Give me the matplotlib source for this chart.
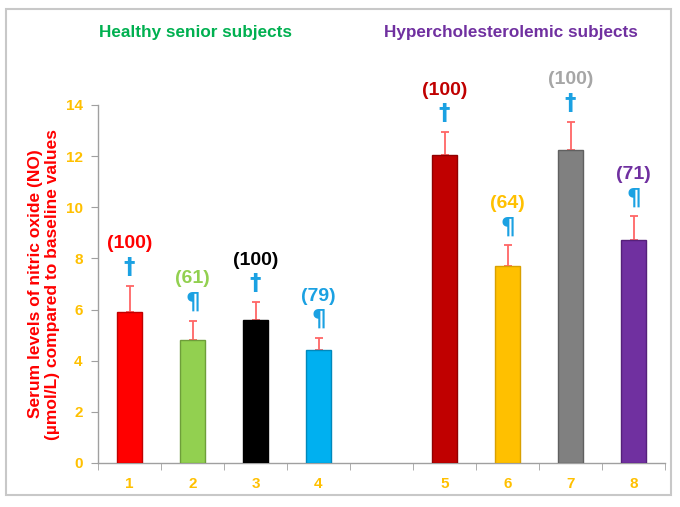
import matplotlib
matplotlib.use("Agg")
import matplotlib.pyplot as plt
from matplotlib.patches import Rectangle
import numpy as np

plt.rcParams['font.family'] = ['Liberation Sans', 'DejaVu Sans']

categories = ["1", "2", "3", "4", "", "5", "6", "7", "8"]
values = [5.91, 4.80, 5.61, 4.43, np.nan, 12.06, 7.71, 12.25, 8.74]
errors = [1.02, 0.77, 0.68, 0.46, np.nan, 0.87, 0.81, 1.10, 0.91]
bar_colors = ["#FF0000", "#92D050", "#000000", "#00B0F0", "none",
              "#C00000", "#FFC000", "#808080", "#7030A0"]
edge_colors = ["#C00000", "#6E9E3A", "#000000", "#0088BB", "none",
               "#900000", "#D9A000", "#606060", "#55207A"]
pct_labels = ["(100)", "(61)", "(100)", "(79)", "", "(100)", "(64)", "(100)", "(71)"]
pct_colors = ["#FF0000", "#92D050", "#000000", "#1BA1E2", "none",
              "#C00000", "#FFC000", "#A6A6A6", "#7030A0"]
symbols = ["†", "¶", "†", "¶", "", "†", "¶", "†", "¶"]
yticks = [0, 2, 4, 6, 8, 10, 12, 14]
group_titles = ["Healthy senior subjects", "Hypercholesterolemic subjects"]
group_colors = ["#00B050", "#7030A0"]
ylabel = "Serum levels of nitric oxide (NO)\n(µmol/L) compared to baseline values"

W, H = 680, 507
fig = plt.figure(figsize=(W / 100, H / 100), dpi=100)
ax = fig.add_axes([98 / W, 44 / H, 567 / W, 358 / H])

x = np.arange(len(categories))
for i in range(len(categories)):
    if np.isnan(values[i]):
        continue
    ax.bar(x[i], values[i], width=0.4, color=bar_colors[i],
           edgecolor=edge_colors[i], linewidth=1.0, zorder=3)
    ax.errorbar(x[i], values[i], yerr=[[0], [errors[i]]], fmt='none',
                ecolor="#FF6666", elinewidth=1.3, capsize=3, capthick=1.3, zorder=2)
    top = values[i] + errors[i]
    ax.annotate(symbols[i], (x[i], top), xytext=(0, 5), textcoords='offset points',
                ha='center', va='bottom', fontsize=16.5, fontweight='bold',
                color="#1BA1E2", annotation_clip=False, family=['DejaVu Sans'])
    ax.annotate(pct_labels[i], (x[i], top), xytext=(0, 24), textcoords='offset points',
                ha='center', va='bottom', fontsize=14, fontweight='bold',
                color=pct_colors[i], annotation_clip=False)

ax.set_xlim(-0.5, len(categories) - 0.5)
ax.set_ylim(0, 14)
ax.set_yticks(yticks)
ax.set_yticklabels([str(t) for t in yticks])
ax.set_xticks(x)
ax.set_xticklabels(categories)
ax.set_xticks(np.arange(-0.5, len(categories), 1.0), minor=True)
ax.tick_params(axis='x', which='major', length=0, pad=10, labelsize=11,
               labelcolor="#FFC000")
ax.tick_params(axis='x', which='minor', length=5, color="#A0A0A0", direction='out')
ax.tick_params(axis='y', length=5, color="#A0A0A0", labelsize=11,
               labelcolor="#FFC000", pad=6)
for lbl in ax.get_xticklabels() + ax.get_yticklabels():
    lbl.set_fontweight('bold')
for s in ['top', 'right']:
    ax.spines[s].set_visible(False)
for s in ['left', 'bottom']:
    ax.spines[s].set_color("#A0A0A0")
    ax.spines[s].set_linewidth(1.0)

ax.set_ylabel(ylabel, fontsize=12.5, fontweight='bold', color="#FF0000",
              labelpad=4, linespacing=1.2)

fig.text(196 / W, 1 - 33 / H, group_titles[0], ha='center', va='center',
         fontsize=12.3, fontweight='bold', color=group_colors[0])
fig.text(511 / W, 1 - 33 / H, group_titles[1], ha='center', va='center',
         fontsize=12.3, fontweight='bold', color=group_colors[1])

fig.patches.append(Rectangle((6 / W, 12 / H), 665 / W, 486 / H, transform=fig.transFigure,
                             fill=False, edgecolor="#C8C8C8", linewidth=1.5))

fig.savefig("out.png", dpi=100)
